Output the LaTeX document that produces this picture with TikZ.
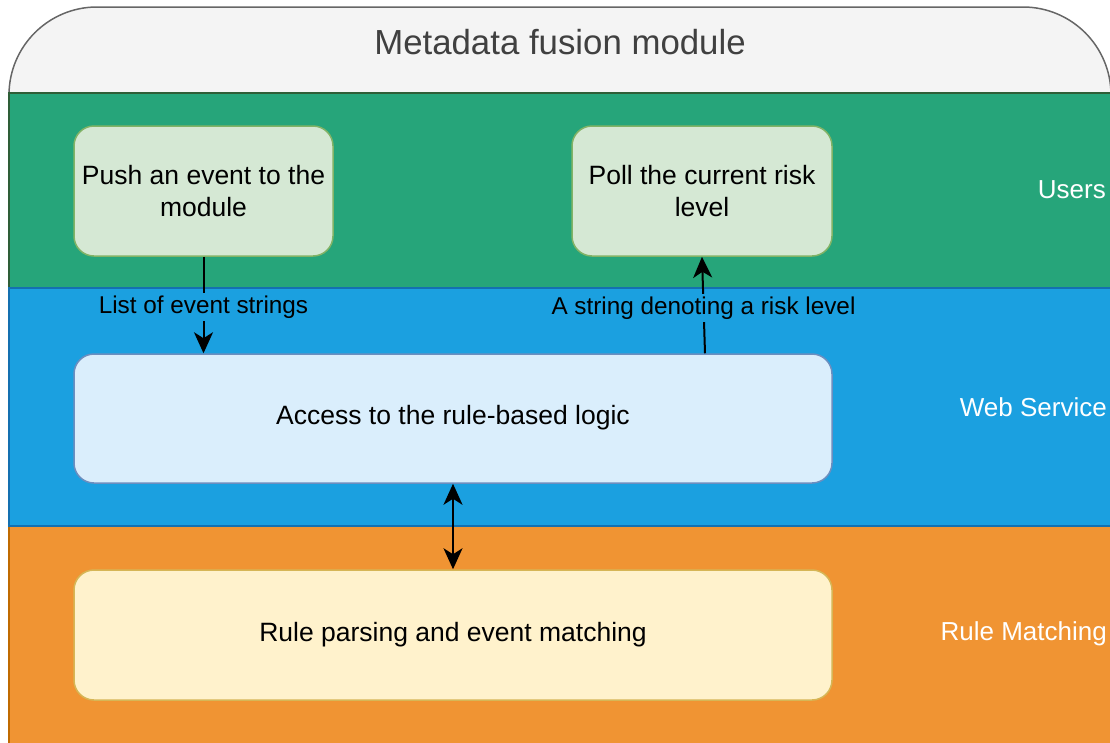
\documentclass[tikz,border=0pt]{standalone}
\usepackage{fontspec}
\setmainfont{Liberation Sans}
\usetikzlibrary{arrows.meta,calc}

\definecolor{headfill}{HTML}{F4F4F4}
\definecolor{headline}{HTML}{666666}
\definecolor{usersfill}{HTML}{26A57A}
\definecolor{usersline}{HTML}{2E5E37}
\definecolor{webfill}{HTML}{1BA0E0}
\definecolor{webline}{HTML}{1470B0}
\definecolor{rulefill}{HTML}{F09433}
\definecolor{ruleline}{HTML}{C06A00}
\definecolor{greenbox}{HTML}{D5E8D4}
\definecolor{greenboxline}{HTML}{82B366}
\definecolor{bluebox}{HTML}{DAEEFC}
\definecolor{blueboxline}{HTML}{6C8EBF}
\definecolor{yellowbox}{HTML}{FFF2CC}
\definecolor{yellowboxline}{HTML}{D6B656}

\tikzset{
  lane/.style={line width=2pt},
  box/.style={rounded corners=20pt, line width=1.5pt, align=center,
    inner sep=0pt, font=\fontsize{26.5}{31.5}\selectfont},
  lanelabel/.style={anchor=east, text=white, inner sep=0pt,
    font=\fontsize{26}{30}\selectfont},
  tip/.tip={Stealth[length=21pt,width=19pt,inset=6pt]},
  flow/.style={line width=2pt, -tip},
  bothflow/.style={line width=2pt, tip-tip},
  edgelabel/.style={fill=webfill, inner sep=2.5pt,
    font=\fontsize{24.3}{28}\selectfont}
}

\begin{document}
\begin{tikzpicture}[x=1pt,y=-1pt]
\useasboundingbox (0,0) rectangle (1110,742);
\clip (0,0) rectangle (1110,742);

% container header with rounded top corners
\draw[draw=headline, fill=headfill, line width=1.5pt, rounded corners=88pt]
  (9,7) rectangle (1111,300);
\node[font=\fontsize{34.8}{40}\selectfont, text=black!75] (title) at (560,42)
  {Metadata fusion module};

% swimlanes
\draw[lane, fill=usersfill, draw=usersline] (9,93) rectangle (1125,288);
\draw[lane, fill=rulefill, draw=ruleline] (9,526) rectangle (1125,760);
\draw[lane, fill=webfill, draw=webline] (9,288) rectangle (1125,526);

\node[lanelabel] (usersl) at (1106,190) {Users};
\node[lanelabel] (webl) at (1107,407) {Web Service};
\node[lanelabel] (rulel) at (1107,634) {Rule Matching};

% process boxes
\node[box, fill=greenbox, draw=greenboxline, minimum width=259pt,
  minimum height=130pt] (push) at (203.5,191) {Push an event to the\\module};
\node[box, fill=greenbox, draw=greenboxline, minimum width=260pt,
  minimum height=130pt] (poll) at (702,191) {Poll the current risk\\level};
\node[box, fill=bluebox, draw=blueboxline, minimum width=758pt,
  minimum height=129pt] (acc) at (453,418.5) {\strut Access to the rule-based logic};
\node[box, fill=yellowbox, draw=yellowboxline, minimum width=758pt,
  minimum height=130pt] (rule) at (453,635) {\strut Rule parsing and event matching};

% connectors
\draw[flow] (push.south) -- (acc.north -| push.south)
  node[edgelabel, pos=0.5, yshift=-2pt] (l1) {List of event strings};
\draw[flow] ([xshift=3pt]acc.north -| poll.south) -- (poll.south)
  node[edgelabel, pos=0.5, yshift=-3pt] (l2) {A string denoting a risk level};
\draw[bothflow] (acc.south) -- (rule.north);
\end{tikzpicture}
\end{document}
